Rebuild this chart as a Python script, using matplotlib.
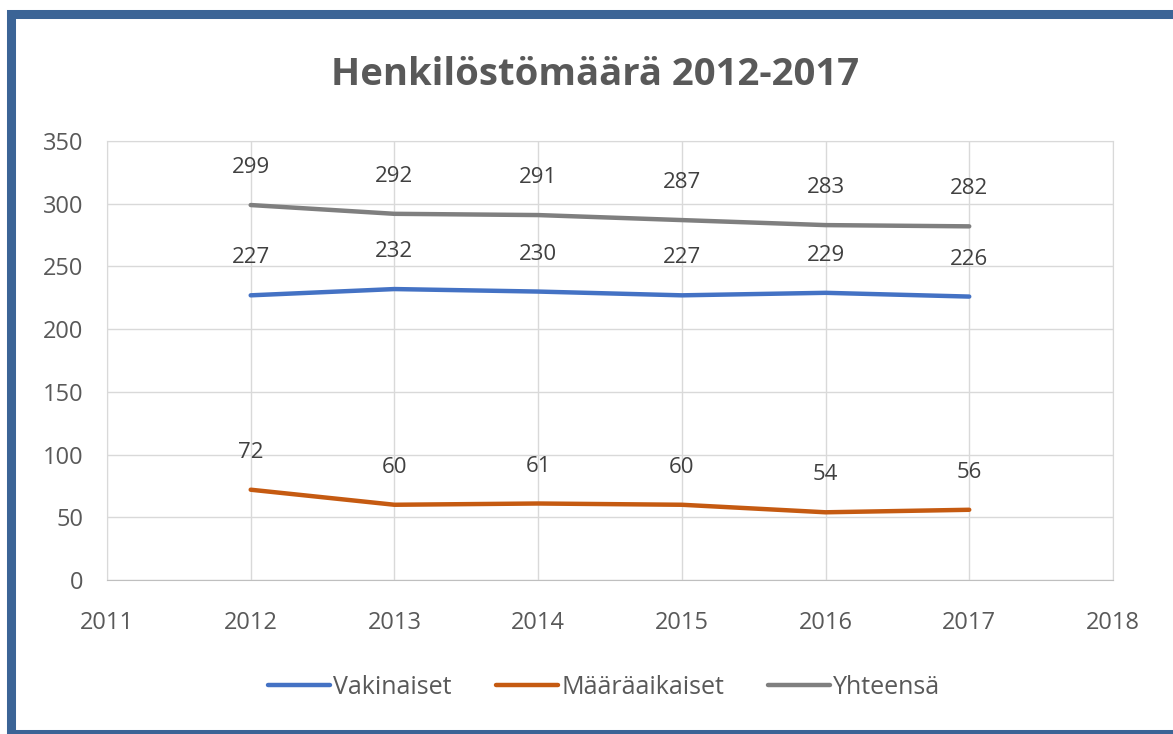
import matplotlib.pyplot as plt
from matplotlib.patches import Rectangle

plt.rcParams['font.family'] = ['Open Sans', 'DejaVu Sans']

# data
vuodet = [2012, 2013, 2014, 2015, 2016, 2017]
vakinaiset = [227, 232, 230, 227, 229, 226]
maaraaikaiset = [72, 60, 61, 60, 54, 56]
yhteensa = [299, 292, 291, 287, 283, 282]
sarjat = ['Vakinaiset', 'Määräaikaiset', 'Yhteensä']
varit = ['#4472C4', '#C55A11', '#7F7F7F']
x_ticks = list(range(2011, 2019))
y_ticks = list(range(0, 351, 50))

teksti = '#595959'

fig = plt.figure(figsize=(11.73, 7.34), dpi=100)
ax = fig.add_axes([0.0912, 0.2098, 0.8576, 0.598])

for arvot, nimi, vari in zip([vakinaiset, maaraaikaiset, yhteensa], sarjat, varit):
    ax.plot(vuodet, arvot, color=vari, lw=3.2, label=nimi, solid_capstyle='round')
    for x, y in zip(vuodet, arvot):
        ax.annotate(str(y), (x, y), xytext=(0, 27), textcoords='offset points',
                    ha='center', va='center', fontsize=16, color='#404040')

ax.set_xlim(2011, 2018)
ax.set_ylim(0, 350)
ax.set_xticks(x_ticks)
ax.set_yticks(y_ticks)
ax.grid(True, color='#D9D9D9', lw=1)
ax.set_axisbelow(True)
for s in ax.spines.values():
    s.set_color('#D9D9D9')
ax.spines['bottom'].set_color('#BFBFBF')
ax.tick_params(length=0, labelsize=17, labelcolor=teksti)
ax.tick_params(axis='x', pad=22)
ax.tick_params(axis='y', pad=17)

fig.text(0.507, 0.898, 'Henkilöstömäärä 2012-2017', ha='center', va='center',
         fontsize=27.5, fontweight='bold', color=teksti)

fig.legend(loc='center', bbox_to_anchor=(0.515, 0.064), ncol=3, frameon=False,
           fontsize=18, handlelength=2.5, handletextpad=0.12, columnspacing=1.75,
           labelcolor=teksti)

# sininen kehys
fig.patches.append(Rectangle((0.0095, 0.0), 1.2, 0.9815, transform=fig.transFigure,
                             fill=False, edgecolor='#3B6496', lw=6.5))

fig.savefig('out.png', dpi=100)
